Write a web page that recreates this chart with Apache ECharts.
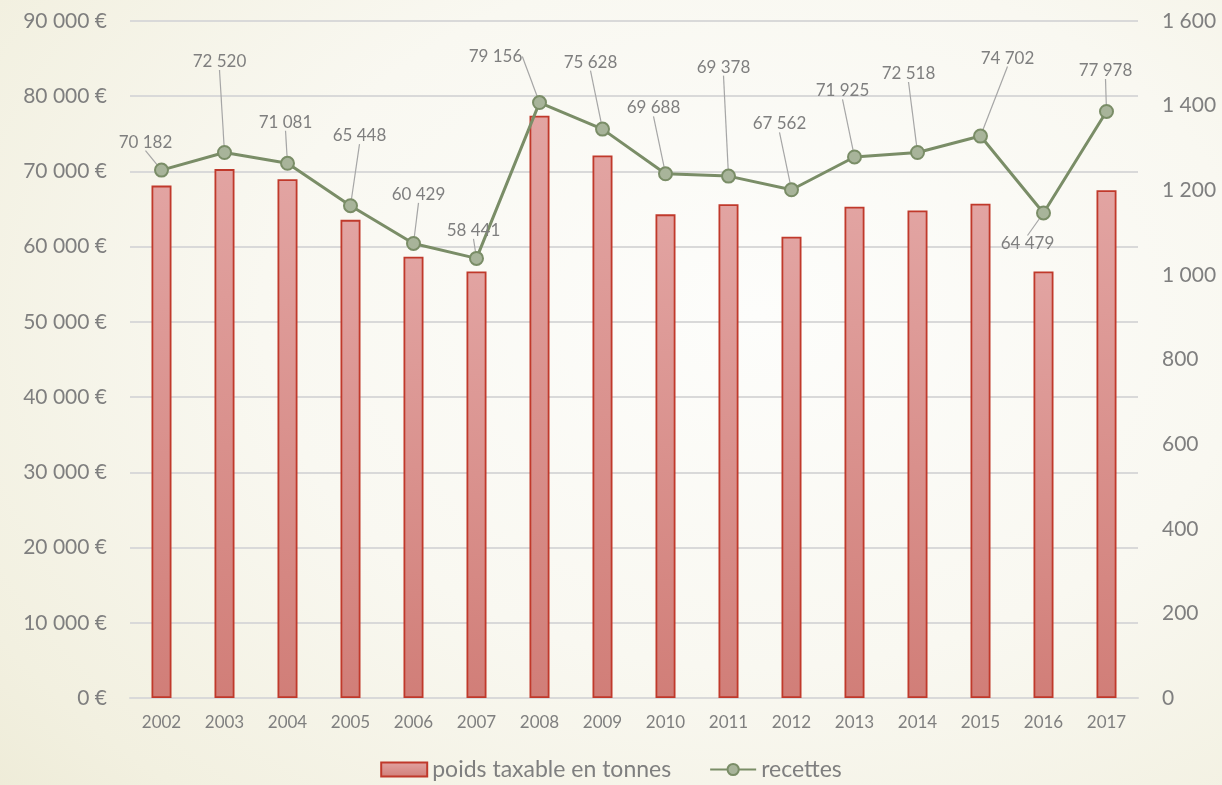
<!DOCTYPE html>
<html>
<head>
<meta charset="utf-8">
<title>poids taxable et recettes</title>
<script src="https://cdn.jsdelivr.net/npm/echarts@6/dist/echarts.min.js"></script>
<style>
html,body{
margin:0;
padding:0;
}
body{
width:1222px;
height:785px;
background:radial-gradient(ellipse 90% 100% at 62% 40%, #fdfdfb 0%, #f9f8f1 45%, #f2f0e0 80%, #ece9d3 100%);
}
#chart{
width:1222px;
height:785px;
}
</style>
</head>
<body>
<div id="chart"></div>
<script>

const years=["2002","2003","2004","2005","2006","2007","2008","2009","2010","2011","2012","2013","2014","2015","2016","2017"]

// poids taxable en tonnes (axe de droite)
const poids=[1211,1250,1226,1130,1043,1008,1376,1282,1143,1167,1090,1161,1152,1168,1008,1200]

// recettes en euros (axe de gauche)
const recettes=[70182,72520,71081,65448,60429,58441,79156,75628,69688,69378,67562,71925,72518,74702,64479,77978]

// decalage des etiquettes par rapport au point
const labelOffsets=[[-16,-28],[-5,-91],[-2,-41],[9,-70],[5,-49],[-3,-28],[-44,-46],[-12,-67],[-12,-66],[-5,-109],[-12,-66],[-12,-66],[-9,-79],[27,-78],[-16,31],[-1,-41]]

const grey="#7f7f7f"
const font="Lato, 'Noto Sans', sans-serif"

function thousands(v){
return String(v).replace(/\B(?=(\d{3})+(?!\d))/g," ")
}

const chart=echarts.init(document.getElementById("chart"),null,{renderer:"canvas"})

chart.setOption({
animation:false,
textStyle:{fontFamily:font,color:grey},
grid:{left:130,right:84,top:21,bottom:87},
legend:{
bottom:-1,
left:"center",
itemWidth:46,
itemHeight:14,
itemGap:38,
textStyle:{fontSize:23,color:grey,fontFamily:font},
data:[{name:"poids taxable en tonnes",icon:"rect"},"recettes"]
},
xAxis:{
type:"category",
data:years,
axisLine:{lineStyle:{color:"#d9d9d9",width:2}},
axisTick:{show:false},
axisLabel:{fontSize:17,color:grey,margin:16,fontFamily:font}
},
yAxis:[{
type:"value",
min:0,
max:90000,
interval:10000,
axisLine:{show:false},
axisTick:{show:false},
splitLine:{lineStyle:{color:"#d9d9d9",width:2}},
axisLabel:{fontSize:21,color:grey,margin:23,fontFamily:font,formatter:v=>thousands(v)+" €"}
},{
type:"value",
min:0,
max:1600,
interval:200,
position:"right",
axisLine:{show:false},
axisTick:{show:false},
splitLine:{show:false},
axisLabel:{fontSize:21,color:grey,margin:24,fontFamily:font,formatter:v=>thousands(v)}
}],
series:[{
name:"poids taxable en tonnes",
type:"bar",
yAxisIndex:1,
data:poids,
barWidth:20,
itemStyle:{
color:new echarts.graphic.LinearGradient(0,0,0,1,[
{offset:0,color:"#e2a4a2"},
{offset:1,color:"#d17e78"}
]),
borderColor:"#c0392b",
borderWidth:1.8
}
},{
name:"recettes",
type:"line",
yAxisIndex:0,
data:recettes,
symbol:"circle",
symbolSize:13,
lineStyle:{color:"#7a8d67",width:3},
itemStyle:{color:"#a8b49a",borderColor:"#7a8d67",borderWidth:2},
label:{
show:true,
position:"inside",
fontSize:17,
color:grey,
fontFamily:font,
formatter:p=>thousands(p.value)
},
labelLine:{show:true,lineStyle:{color:"#a6a6a6",width:1.2}},
labelLayout:function(params){
const o=labelOffsets[params.dataIndex]
return {dx:o[0],dy:o[1],hideOverlap:false}
},
z:5
}]
})

</script>
</body>
</html>
